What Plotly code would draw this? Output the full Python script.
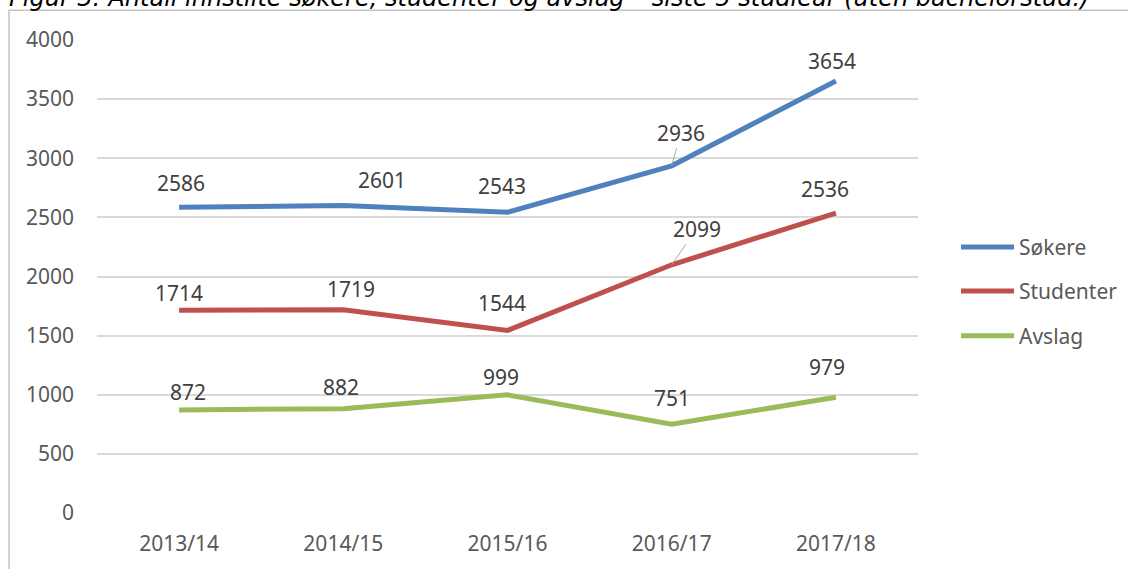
import plotly.graph_objects as go

# Data
years = ["2013/14", "2014/15", "2015/16", "2016/17", "2017/18"]
sokere = [2586, 2601, 2543, 2936, 3654]
studenter = [1714, 1719, 1544, 2099, 2536]
avslag = [872, 882, 999, 751, 979]
y_ticks = [0, 500, 1000, 1500, 2000, 2500, 3000, 3500, 4000]

TITLE = "Figur 3: Antall innstilte søkere, studenter og avslag – siste 5 studieår (uten bachelorstud.)"

# series name, values, colour, label offsets (px) as Excel placed them, leader line flags
SERIES = [
    ("Søkere", sokere, "#4F81BD",
     [(2, -24), (39, -25), (-6, -26), (9, -33), (-4, -20)],
     [False, False, False, True, False]),
    ("Studenter", studenter, "#C0504D",
     [(0, -17), (8, -21), (-6, -27), (25, -36), (-11, -24)],
     [False, False, False, True, False]),
    ("Avslag", avslag, "#9BBB59",
     [(9, -18), (-2, -22), (-7, -18), (0, -26), (-9, -30)],
     [False, False, False, False, False]),
]

FONT = "Noto Sans"
LABEL_COLOR = "#404040"
TICK_COLOR = "#595959"
FS = 21

# plot area in pixels
W, H = 1128, 569
L, R, T, B = 97, 210, 40, 54
pw = W - L - R
ph = H - T - B


def px_x(x):
    return (x - L) / pw


def px_y(y):
    return 1 - (y - T) / ph


fig = go.Figure()
annotations = []
shapes = []

# legend rows (manual, Excel-style long line samples)
legend_rows = [248, 292, 337]

for (name, values, color, offsets, leaders), ly in zip(SERIES, legend_rows):
    fig.add_trace(go.Scatter(
        x=years, y=values, name=name, mode="lines",
        line=dict(color=color, width=5),
        showlegend=False,
    ))
    for xv, yv, (dx, dy), lead in zip(years, values, offsets, leaders):
        annotations.append(dict(
            x=xv, y=yv, xref="x", yref="y", text=str(yv),
            showarrow=True, ax=dx, ay=dy, arrowhead=0, arrowwidth=1,
            arrowcolor="#a6a6a6" if lead else "rgba(0,0,0,0)",
            standoff=0, startstandoff=0,
            font=dict(family=FONT, size=FS, color=LABEL_COLOR),
        ))
    shapes.append(dict(
        type="line", xref="paper", yref="paper",
        x0=px_x(961), x1=px_x(1014), y0=px_y(ly), y1=px_y(ly),
        line=dict(color=color, width=5),
    ))
    annotations.append(dict(
        x=px_x(1017), y=px_y(ly), xref="paper", yref="paper",
        xanchor="left", yanchor="middle", showarrow=False, text=name,
        font=dict(family=FONT, size=FS, color=TICK_COLOR),
    ))

# cut-off figure caption above the chart frame
annotations.append(dict(
    x=px_x(7), y=px_y(13.5), xref="paper", yref="paper",
    xanchor="left", yanchor="bottom", showarrow=False,
    text="<i>" + TITLE + "</i>",
    font=dict(family="DejaVu Sans", size=24, color="#000000"),
))

# chart frame (Excel chart area border)
shapes.append(dict(
    type="rect", xref="paper", yref="paper",
    x0=px_x(9), x1=px_x(W + 5), y0=px_y(H + 10), y1=px_y(10),
    line=dict(color="#c4c4c4", width=1.5), fillcolor="rgba(0,0,0,0)",
    layer="below",
))

fig.update_xaxes(
    range=[-0.5, 4.5], showgrid=False, zeroline=False, showline=False,
    ticks="", ticklabelstandoff=16,
    tickfont=dict(family=FONT, size=FS, color=TICK_COLOR),
)
fig.update_yaxes(
    range=[0, 4000], tickvals=y_ticks, showgrid=True, gridcolor="#d9d9d9",
    gridwidth=2, zeroline=False, showline=False, ticks="",
    ticklabelstandoff=22,
    tickfont=dict(family=FONT, size=FS, color=TICK_COLOR),
)

fig.update_layout(
    width=W, height=H,
    margin=dict(l=L, r=R, t=T, b=B, pad=0),
    plot_bgcolor="white", paper_bgcolor="white",
    showlegend=False,
    annotations=annotations,
    shapes=shapes,
    hovermode="x unified",
)

# drop the default body margin so the figure sits at the window origin
fig.write_html(
    "out.html",
    config={"displayModeBar": False},
    post_script="document.body.style.margin='0';",
)
